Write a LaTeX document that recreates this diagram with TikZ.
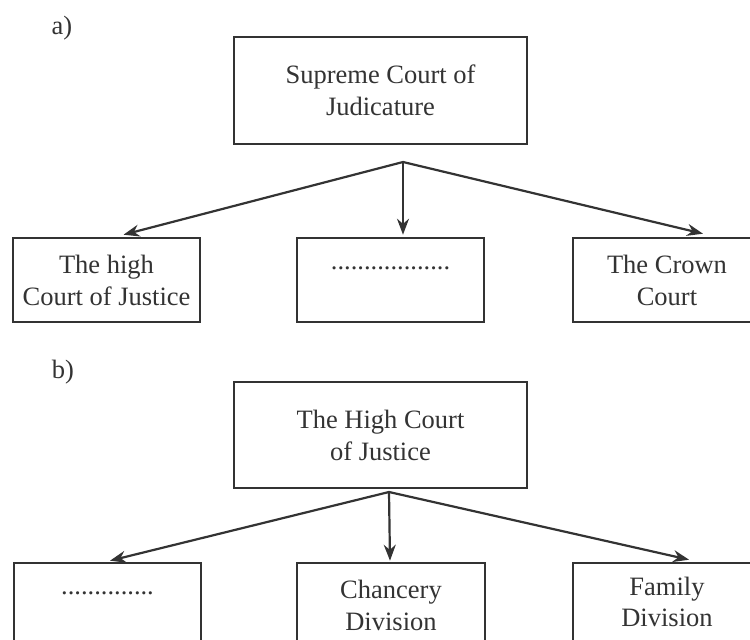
\documentclass[tikz,border=0pt]{standalone}
\usepackage{fontspec}
\setmainfont{Liberation Serif}
\usetikzlibrary{arrows.meta,calc}
\definecolor{ink}{HTML}{333333}
\begin{document}
\begin{tikzpicture}[x=1pt,y=-1pt,
  box/.style={draw=ink, line width=2.6pt, rectangle, inner sep=0pt, align=center,
    text=ink, font=\fontsize{26.5}{32}\selectfont},
  tag/.style={text=ink, inner sep=0pt, font=\fontsize{26.5}{32}\selectfont},
  conn/.style={draw=ink, line width=2.2pt, -{Stealth[length=16pt,width=12pt]}}]
\useasboundingbox (0,0) rectangle (750,640);
\clip (0,0) rectangle (750,640);
% part a
\node[tag] (la) at (62,28) {a)};
\node[box, minimum width=293, minimum height=107] (A) at (380.5,90.5) {Supreme Court of\\Judicature};
\node[box, minimum width=187, minimum height=84] (a1) at (106.5,280) {The high\\Court of Justice};
\node[box, minimum width=187, minimum height=84] (a2) at (390.5,280) {\raisebox{24pt}{..................}};
\node[box, minimum width=188, minimum height=84] (a3) at (667,280) {The Crown\\Court};
\coordinate (aO) at (403,162);
\draw[conn] (aO) -- ($(a1.north)+(17,-2)$);
\draw[conn] (aO) -- ($(a2.north)+(12.5,-2)$);
\draw[conn] (aO) -- ($(a3.north)+(36,-3)$);
% part b
\node[tag] (lb) at (63,372) {b)};
\node[box, minimum width=293, minimum height=106] (B) at (380.5,435) {The High Court\\of Justice};
\node[box, minimum width=187, minimum height=84] (b1) at (107.5,605) {\raisebox{24pt}{..............}};
\node[box, minimum width=188, minimum height=84] (b2) at (391,605) {Chancery\\Division};
\node[box, minimum width=188, minimum height=84] (b3) at (667,605) {\raisebox{7pt}{\shortstack{Family\\[5pt]Division}}};
\coordinate (bO) at (389,492);
\draw[conn] (bO) -- ($(b1.north)+(2.5,-1)$);
\draw[conn] (bO) -- ($(b2.north)+(-1,-1)$);
\draw[conn] (bO) -- ($(b3.north)+(22,-2)$);
\end{tikzpicture}
\end{document}
